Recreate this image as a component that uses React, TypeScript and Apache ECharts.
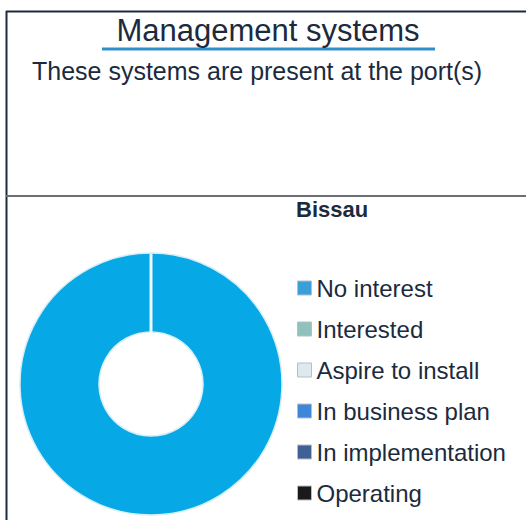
import React, { useEffect, useRef } from "react";
import * as echarts from "echarts";

const title = "Management systems";
const subtitle = "These systems are present at the port(s)";
const portName = "Bissau";
const categories = [
  "No interest",
  "Interested",
  "Aspire to install",
  "In business plan",
  "In implementation",
  "Operating",
];
const values = [1, 0, 0, 0, 0, 0];
const sliceColors = ["#06a8e6", "#8fc2bd", "#dde8ef", "#3f86d8", "#3f5f95", "#1a1a1a"];
const legendColors = ["#3a9fd8", "#8fc2bd", "#dde8ef", "#3f86d8", "#3f5f95", "#1a1a1a"];

const FONT = "'Liberation Sans', Arial, sans-serif";
const TEXT = "#1b2b3d";

export default function App() {
  const ref = useRef<HTMLDivElement>(null);
  useEffect(() => {
    if (!ref.current) return;
    const chart = echarts.init(ref.current, undefined, { renderer: "svg" });
    chart.setOption({
      animation: false,
      backgroundColor: "#ffffff",
      legend: {
        orient: "vertical",
        left: 297,
        top: 276,
        padding: 0,
        itemWidth: 14,
        itemHeight: 14,
        itemGap: 17,
        icon: "rect",
        selectedMode: false,
        textStyle: { fontSize: 24, lineHeight: 24, color: TEXT, fontFamily: FONT },
        data: categories.map((name, i) => ({
          name,
          itemStyle: { color: legendColors[i], borderColor: "#b8bec4", borderWidth: 1 },
        })),
      },
      series: [
        {
          type: "pie",
          center: [151, 384],
          radius: [52, 131],
          startAngle: 90,
          clockwise: true,
          label: { show: false },
          labelLine: { show: false },
          emphasis: { disabled: true },
          itemStyle: { borderColor: "#d6eef8", borderWidth: 1.5 },
          data: categories.map((name, i) => ({
            name,
            value: values[i],
            itemStyle: { color: sliceColors[i] },
          })),
        },
      ],
      graphic: [
        { type: "line", shape: { x1: 6, y1: 11.5, x2: 526, y2: 11.5 }, style: { stroke: "#1c2c3e", lineWidth: 2 } },
        { type: "line", shape: { x1: 6.5, y1: 11, x2: 6.5, y2: 520 }, style: { stroke: "#1c2c3e", lineWidth: 2 } },
        { type: "line", shape: { x1: 6, y1: 196, x2: 526, y2: 196 }, style: { stroke: "#6b6f73", lineWidth: 2 } },
        { type: "line", shape: { x1: 102, y1: 49, x2: 435, y2: 49 }, style: { stroke: "#2f8fca", lineWidth: 3 } },
        { type: "line", shape: { x1: 151, y1: 254, x2: 151, y2: 333 }, style: { stroke: "#eef9fd", lineWidth: 3 }, z: 100 },
        {
          type: "text",
          x: 268,
          y: 30,
          style: { text: title, fontSize: 31, fontFamily: FONT, fill: TEXT, textAlign: "center", textVerticalAlign: "middle" },
        },
        {
          type: "text",
          x: 32,
          y: 71,
          style: { text: subtitle, fontSize: 25, fontFamily: FONT, fill: TEXT, textAlign: "left", textVerticalAlign: "middle" },
        },
        {
          type: "text",
          x: 296,
          y: 209,
          style: { text: portName, fontSize: 22, fontWeight: "bold", fontFamily: FONT, fill: TEXT, textAlign: "left", textVerticalAlign: "middle" },
        },
      ],
    });
    return () => chart.dispose();
  }, []);
  return (
    <div
      ref={ref}
      style={{ position: "absolute", left: 0, top: 0, width: 526, height: 520 }}
    />
  );
}
